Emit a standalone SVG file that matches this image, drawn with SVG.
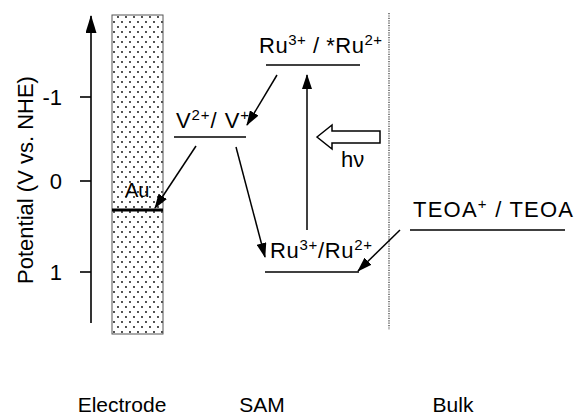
<svg xmlns="http://www.w3.org/2000/svg" width="576" height="418" viewBox="0 0 576 418">
<style>
text{font-family:"Liberation Sans",Arial,sans-serif;fill:#000}
.lbl{font-size:22px}
.sup{font-size:15px}
.ln{stroke:#000;stroke-width:1.6;fill:none}
.arr{stroke:#000;stroke-width:1.5;fill:none;marker-end:url(#ah)}
</style>
<defs>
<pattern id="dots" width="8" height="10" patternUnits="userSpaceOnUse">
<rect width="8" height="10" fill="#fff"/>
<circle cx="2" cy="2" r="0.9" fill="#000"/>
<circle cx="6" cy="7" r="0.9" fill="#000"/>
</pattern>
<marker id="ah" markerWidth="15" markerHeight="10" refX="14" refY="5" orient="auto" markerUnits="userSpaceOnUse">
<path d="M0,0 L15,5 L0,10 z" fill="#000"/>
</marker>
<marker id="axh" markerWidth="18" markerHeight="11" refX="17" refY="5.5" orient="auto" markerUnits="userSpaceOnUse">
<path d="M0,0 L18,5.5 L0,11 z" fill="#000"/>
</marker>
</defs>

<g id="axis">
<line x1="91" y1="323" x2="91" y2="16" stroke="#000" stroke-width="1.6" marker-end="url(#axh)"/>
<line x1="80" y1="97" x2="91" y2="97" class="ln"/>
<line x1="80" y1="181" x2="91" y2="181" class="ln"/>
<line x1="80" y1="272" x2="91" y2="272" class="ln"/>
<text x="62" y="105" class="lbl" text-anchor="end">-1</text>
<text x="62" y="189" class="lbl" text-anchor="end">0</text>
<text x="62" y="280" class="lbl" text-anchor="end">1</text>
<text transform="translate(33,180) rotate(-90)" text-anchor="middle" style="font-size:22px">Potential (V vs. NHE)</text>
</g>

<g id="electrode">
<rect x="112" y="15" width="51" height="319" fill="url(#dots)" stroke="#555" stroke-width="1"/>
<line x1="112" y1="210" x2="163" y2="210" stroke="#000" stroke-width="3"/>
<text x="125" y="197" style="font-size:20px">Au</text>
</g>

<g id="viologen">
<line x1="174" y1="137" x2="246" y2="137" class="ln"/>
<text x="176" y="128" class="lbl" textLength="73" lengthAdjust="spacing">V<tspan class="sup" dy="-8">2+</tspan><tspan dy="8">/ V</tspan><tspan class="sup" dy="-8">+</tspan></text>
</g>

<g id="ru-excited">
<line x1="266" y1="65" x2="360" y2="65" class="ln"/>
<text x="259" y="53" class="lbl" textLength="123" lengthAdjust="spacing">Ru<tspan class="sup" dy="-8">3+</tspan><tspan dy="8"> / *Ru</tspan><tspan class="sup" dy="-8">2+</tspan></text>
</g>

<g id="ru-ground">
<line x1="265" y1="272" x2="359" y2="272" class="ln"/>
<text x="270" y="258" class="lbl" textLength="102" lengthAdjust="spacing">Ru<tspan class="sup" dy="-8">3+</tspan><tspan dy="8">/Ru</tspan><tspan class="sup" dy="-8">2+</tspan></text>
</g>

<g id="teoa">
<line x1="410" y1="230" x2="565" y2="230" class="ln"/>
<text x="413" y="217" class="lbl" textLength="160" lengthAdjust="spacing">TEOA<tspan class="sup" dy="-8">+</tspan><tspan dy="8"> / TEOA</tspan></text>
</g>

<g id="light">
<path d="M317,137 L332,125 L332,131 L380,131 L380,143 L332,143 L332,149 Z" fill="#fff" stroke="#000" stroke-width="1.5"/>
<text x="341" y="167" class="lbl">hν</text>
</g>

<g id="boundary">
<line x1="389" y1="13" x2="389" y2="330" stroke="#333" stroke-width="1.2" stroke-dasharray="1.2,1.2"/>
</g>

<g id="connectors">
<line x1="277" y1="75" x2="247" y2="125" class="arr"/>
<line x1="196" y1="146" x2="155" y2="208" class="arr"/>
<line x1="236" y1="147" x2="265" y2="257" class="arr"/>
<line x1="307" y1="230" x2="307" y2="75" class="arr"/>
<line x1="400" y1="230" x2="358" y2="271" class="arr"/>
</g>

<g id="regions">
<text x="122" y="412" class="lbl" font-size="21" text-anchor="middle" style="font-size:21px">Electrode</text>
<text x="262" y="412" class="lbl" text-anchor="middle" style="font-size:21px">SAM</text>
<text x="453" y="412" class="lbl" text-anchor="middle" style="font-size:21px">Bulk</text>
</g>
</svg>
